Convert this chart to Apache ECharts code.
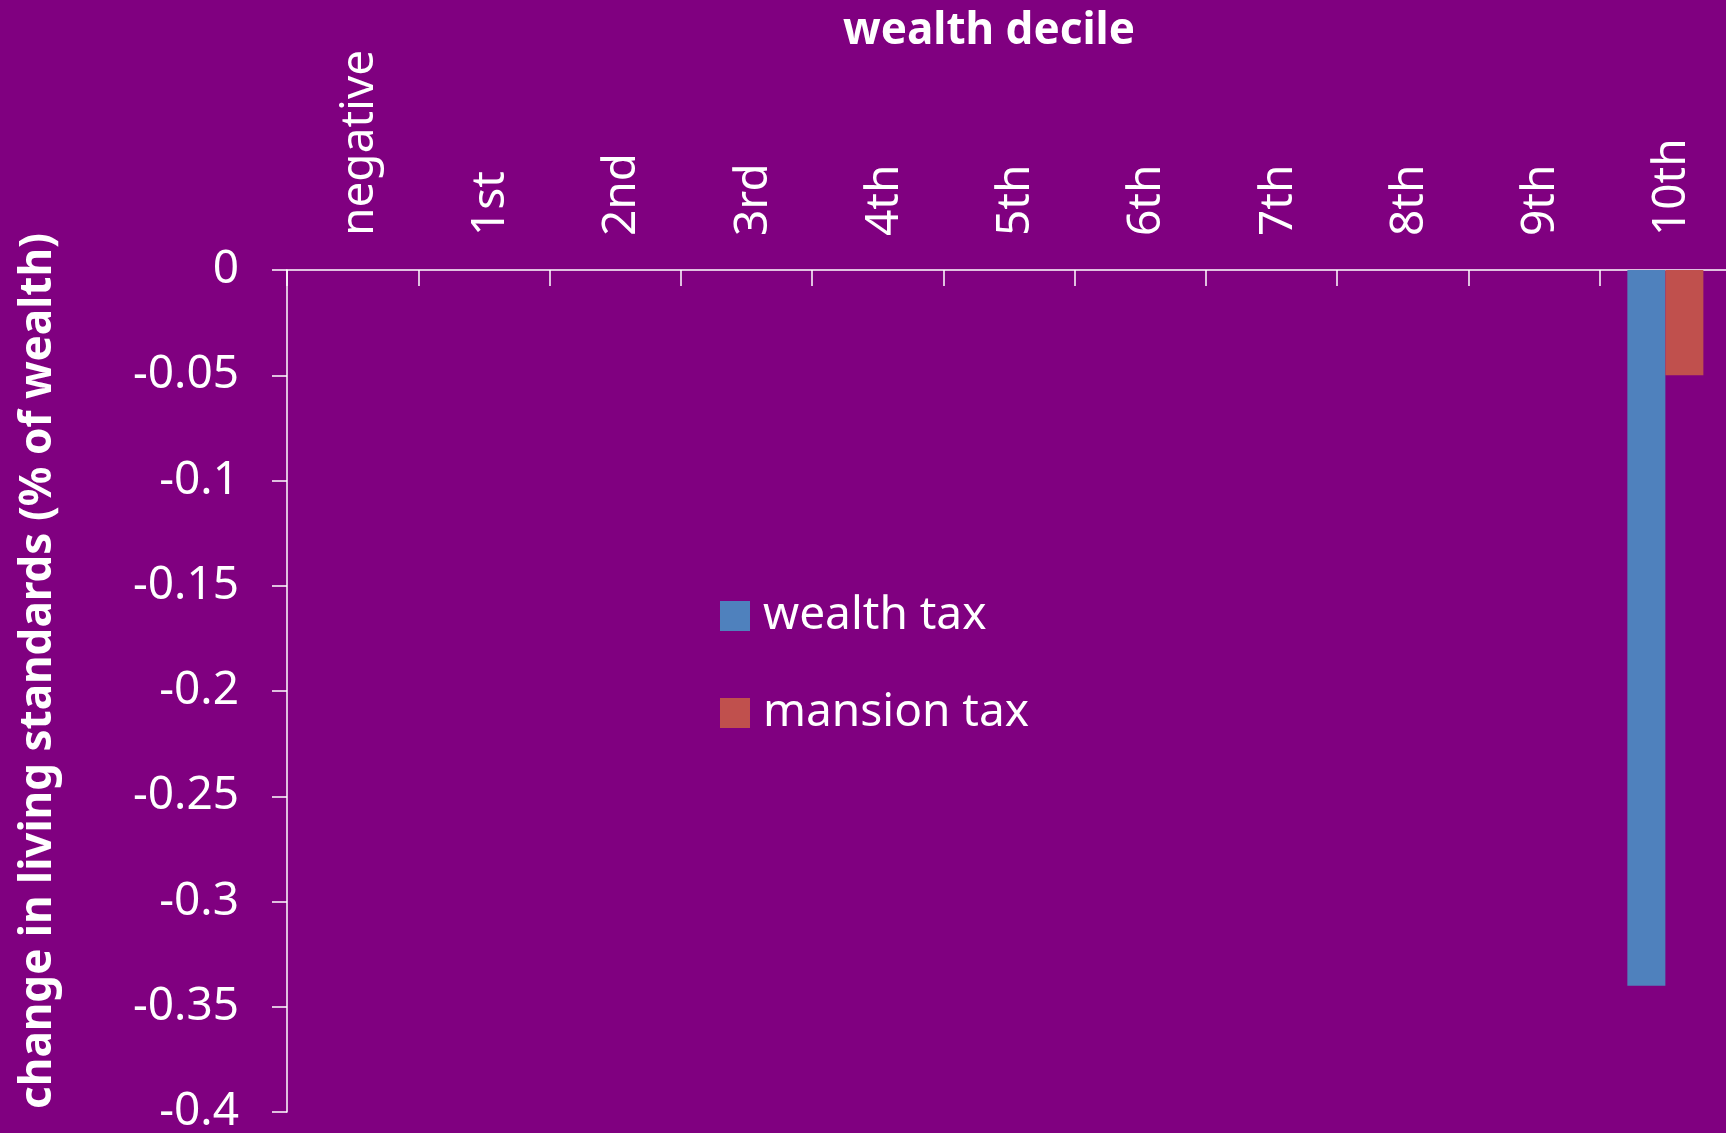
<!DOCTYPE html>
<html>
<head>
<meta charset="utf-8">
<style>
  html, body { margin: 0; padding: 0; background: #800080; }
  #chart { width: 1726px; height: 1133px; }
</style>
<script src="https://cdn.jsdelivr.net/npm/echarts@6/dist/echarts.min.js"></script>
</head>
<body>
<div id="chart"></div>
<script>
// Wealth deciles along the top axis
const deciles = ['negative', '1st', '2nd', '3rd', '4th', '5th', '6th', '7th', '8th', '9th', '10th'];

// Change in living standards, % of wealth
const wealthTax = [0, 0, 0, 0, 0, 0, 0, 0, 0, 0, -0.34];
const mansionTax = [0, 0, 0, 0, 0, 0, 0, 0, 0, 0, -0.05];

// Value axis range
const yMin = -0.4;
const yMax = 0;
const yStep = 0.05;

const FONT = 'Noto Sans';
const chart = echarts.init(document.getElementById('chart'), null, { renderer: 'canvas' });

chart.setOption({
  backgroundColor: '#800080',
  animation: false,
  textStyle: { fontFamily: FONT, color: '#ffffff' },
  title: {
    text: 'wealth decile',
    left: 984,
    textAlign: 'center',
    top: 4,
    textStyle: { fontFamily: FONT, fontWeight: 'bold', fontSize: 44, color: '#ffffff' }
  },
  legend: {
    orient: 'vertical',
    left: 715,
    top: 588,
    itemWidth: 30,
    itemHeight: 30,
    itemGap: 51,
    icon: 'rect',
    data: ['wealth tax', 'mansion tax'],
    textStyle: { fontFamily: FONT, fontSize: 46, color: '#ffffff', padding: [0, 0, 0, 8] }
  },
  // the plot runs slightly past the right edge of the canvas
  grid: { left: 287, width: 1444, top: 270, bottom: 21, containLabel: false, outerBoundsMode: 'none' },
  xAxis: {
    type: 'category',
    position: 'top',
    data: deciles,
    boundaryGap: true,
    axisLine: { show: true, onZero: false, lineStyle: { color: '#ffffff', width: 1.5 } },
    axisTick: { show: true, inside: true, length: 16, lineStyle: { color: '#ffffff', width: 1.5 } },
    axisLabel: {
      rotate: -90,
      margin: 34,
      formatter: v => '{d|' + v + '}',
      rich: { d: { padding: [14, 0, 0, 0], fontFamily: FONT, fontSize: 46, color: '#ffffff' } }
    },
    splitLine: { show: false }
  },
  yAxis: {
    type: 'value',
    min: yMin,
    max: yMax,
    interval: yStep,
    name: 'change in living standards (% of wealth)',
    nameLocation: 'middle',
    nameGap: 227,
    nameTextStyle: { fontFamily: FONT, fontWeight: 'bold', fontSize: 44, color: '#ffffff', padding: [0, 0, 0, 40] },
    axisLine: { show: true, lineStyle: { color: '#ffffff', width: 1.5 } },
    axisTick: { show: true, length: 15, lineStyle: { color: '#ffffff', width: 1.5 } },
    axisLabel: { margin: 48, fontFamily: FONT, fontSize: 46, color: '#ffffff' },
    splitLine: { show: false }
  },
  series: [
    {
      name: 'wealth tax',
      type: 'bar',
      data: wealthTax,
      barWidth: 38,
      barGap: '0%',
      itemStyle: { color: '#4F81BD' }
    },
    {
      name: 'mansion tax',
      type: 'bar',
      data: mansionTax,
      barWidth: 38,
      barGap: '0%',
      itemStyle: { color: '#C0504D' }
    }
  ]
});
</script>
</body>
</html>
